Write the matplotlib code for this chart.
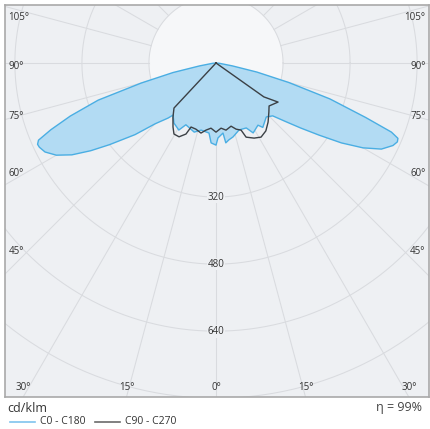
import numpy as np
import matplotlib.pyplot as plt

plt.rcParams['font.family'] = ['Open Sans', 'DejaVu Sans']

# C0 - C180 plane (gamma in degrees, intensity in cd/klm)
c0_gamma = [0, 1.5, 5.7, 7, 9.5, 13, 19, 25, 28, 34, 36, 43, 47, 50, 52.5, 55,
            57.5, 60, 62.5, 65, 66.5, 67.5, 68.5, 70, 72.5, 75, 77.5, 80, 85, 90]
c0_vals = [196, 179, 168, 192, 186, 181, 169, 171, 189, 179, 190, 176, 185, 218,
           255, 300, 355, 405, 445, 466, 472, 470, 450, 380, 285, 180, 100, 40, 8, 0]
c180_gamma = [0, 3.5, 5.7, 12.5, 17.5, 26, 29, 35, 39.5, 41, 45, 48.5, 52.5, 55,
              57.5, 60, 62.5, 64.5, 65.5, 66.5, 68, 70, 72.5, 75, 77.5, 80, 85, 90]
c180_vals = [196, 191, 168, 164, 173, 164, 183, 175, 161, 174, 205, 258, 320, 365,
             408, 440, 460, 467, 468, 462, 425, 370, 295, 185, 105, 40, 8, 0]

# C90 - C270 plane
c90_gamma = [0, 4.4, 8.5, 13.4, 16.9, 20.5, 22.1, 26.9, 31.3, 36.3, 41.4, 47.2,
             51, 57.8, 54.7, 90]
c90_vals = [165, 156, 162, 155, 165, 171, 191, 201, 207, 201, 188, 172, 163, 175, 140, 0]
c270_gamma = [0, 4.4, 8.5, 12.1, 16.9, 21.3, 22.9, 26.6, 30.6, 33.9, 38.5, 43, 90]
c270_vals = [165, 156, 162, 171, 165, 164, 184, 197, 197, 184, 165, 147, 0]

rings = [160, 320, 480, 640, 800]
ring_labels = [320, 480, 640]
side_angles = [105, 90, 75, 60, 45]
bottom_angles = [-30, -15, 0, 15, 30]
eta = 99


def to_xy(gamma, vals, side):
    g = np.radians(gamma)
    v = np.asarray(vals, dtype=float)
    return side * v * np.sin(g), -v * np.cos(g)


s = 0.419  # px per cd/klm
cx, cy = 216, 63
fig = plt.figure(figsize=(4.3, 4.29), dpi=100)
ax = fig.add_axes([5 / 430, 32 / 429, 424 / 430, 392 / 429])
ax.set_xlim((5 - cx) / s, (429 - cx) / s)
ax.set_ylim(-(397 - cy) / s, (cy - 5) / s)
ax.set_facecolor('#eef0f3')
for sp in ax.spines.values():
    sp.set_color('#a9a9a9')
    sp.set_linewidth(1.2)
ax.set_xticks([])
ax.set_yticks([])

# polar grid
t = np.linspace(0, 2 * np.pi, 400)
ax.fill(rings[0] * np.cos(t), rings[0] * np.sin(t), color='#f6f7f9', zorder=0.5, lw=0)
for r in rings:
    ax.plot(r * np.cos(t), r * np.sin(t), color='#d9dbdf', lw=0.75, zorder=1)
for a in range(-180, 181, 15):
    ar = np.radians(a)
    ax.plot([160 * np.sin(ar), 1400 * np.sin(ar)], [-160 * np.cos(ar), -1400 * np.cos(ar)],
            color='#d9dbdf', lw=0.75, zorder=1)

# C0 - C180 filled
xl, yl = to_xy(c180_gamma, c180_vals, -1)
xr, yr = to_xy(c0_gamma, c0_vals, 1)
bx = np.concatenate([xl[::-1], xr])
by = np.concatenate([yl[::-1], yr])
ax.fill(bx, by, color='#b2dbf3', zorder=2, lw=0)
ax.plot(bx, by, color='#4aaee3', lw=1.0, zorder=3)

# C90 - C270
xl, yl = to_xy(c270_gamma, c270_vals, -1)
xr, yr = to_xy(c90_gamma, c90_vals, 1)
ax.plot(np.concatenate([xl[::-1], xr]), np.concatenate([yl[::-1], yr]),
        color='#3b4045', lw=1.0, zorder=4)

# ring labels
for r in ring_labels:
    ax.text(0, -r, str(r), ha='center', va='center', fontsize=7, color='#333333', zorder=5,
            bbox=dict(facecolor='#eef0f3', edgecolor='none', pad=0.6))

# angle labels on the sides
xin = 185 / s
for a in side_angles:
    y = -xin / np.tan(np.radians(a)) - 4 / s
    ax.text(0.008, y, f'{a}°', transform=ax.get_yaxis_transform(), ha='left', va='center',
            fontsize=7, color='#333333')
    ax.text(0.992, y, f'{a}°', transform=ax.get_yaxis_transform(), ha='right', va='center',
            fontsize=7, color='#333333')
ybot = -(387 - cy) / s
for a in bottom_angles:
    x = 797 * np.tan(np.radians(a))
    ax.text(x, ybot, f'{abs(a)}°', ha='center', va='center', fontsize=7, color='#333333')

# legend and footer
fig.text(7 / 430, 1 - 408 / 429, 'cd/klm', ha='left', va='center', fontsize=9, color='#333333')
fig.text(422 / 430, 1 - 408 / 429, f'η = {eta}%', ha='right', va='center', fontsize=9,
         color='#444444')
fig.add_artist(plt.Line2D([10 / 430, 35 / 430], [1 - 422 / 429] * 2, color='#7fc4ee', lw=1.2))
fig.text(40 / 430, 1 - 422 / 429, 'C0 - C180', ha='left', va='center', fontsize=7.5, color='#333333')
fig.add_artist(plt.Line2D([95 / 430, 120 / 430], [1 - 422 / 429] * 2, color='#6b6b6b', lw=1.2))
fig.text(125 / 430, 1 - 422 / 429, 'C90 - C270', ha='left', va='center', fontsize=7.5, color='#333333')

fig.savefig('out.png', dpi=100, facecolor='white')
